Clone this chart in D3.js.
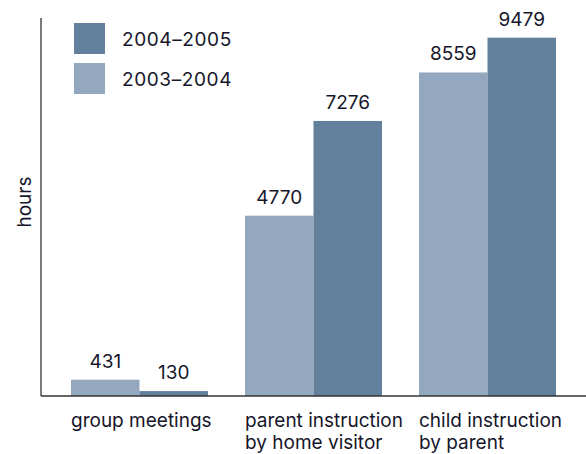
<!DOCTYPE html>
<html>
<head>
<meta charset="utf-8">
<script src="https://cdn.jsdelivr.net/npm/d3@7"></script>
<style>
  body { margin: 0; background: #fff; }
  text { font-family: Inter, "Liberation Sans", Arial, sans-serif; fill: #16162a; }
</style>
</head>
<body>
<svg id="chart" width="586" height="454"></svg>
<script>
// categories (each label can span two lines)
var categories = ["group meetings", "parent instruction|by home visitor", "child instruction|by parent"];
var seriesNames = ["2003–2004", "2004–2005"];
var values2003 = [431, 4770, 8559];
var values2004 = [130, 7276, 9479];
var legendOrder = ["2004–2005", "2003–2004"];

var colors = { "2003–2004": "#93a8be", "2004–2005": "#62809c" };

var svg = d3.select("#chart");
var margin = { left: 41, top: 18, bottom: 396 };
var fontSize = 19;

var rows = categories.map(function (c, i) {
    return { cat: c, vals: [
        { key: "2003–2004", value: values2003[i] },
        { key: "2004–2005", value: values2004[i] }
    ] };
});

var y = d3.scaleLinear().domain([0, 10000]).range([margin.bottom, margin.top]);
var x = d3.scaleBand().domain(categories).range([71, 556]).paddingInner(0.2126).paddingOuter(0);
var xs = d3.scaleBand().domain(seriesNames).range([0, x.bandwidth()]).padding(0);

// bars
var groups = svg.selectAll("g.grp").data(rows).enter().append("g")
    .attr("class", "grp")
    .attr("transform", function (d) { return "translate(" + x(d.cat) + ",0)"; });

groups.selectAll("rect").data(function (d) { return d.vals; }).enter().append("rect")
    .attr("x", function (d) { return xs(d.key); })
    .attr("y", function (d) { return y(d.value); })
    .attr("width", xs.bandwidth())
    .attr("height", function (d) { return y(0) - y(d.value); })
    .attr("fill", function (d) { return colors[d.key]; });

groups.selectAll("text.val").data(function (d) { return d.vals; }).enter().append("text")
    .attr("class", "val")
    .attr("x", function (d) { return xs(d.key) + xs.bandwidth() / 2; })
    .attr("y", function (d) { return y(d.value) - 12; })
    .attr("text-anchor", "middle")
    .attr("font-size", fontSize)
    .text(function (d) { return d.value; });

// axes lines
svg.append("line")
    .attr("x1", margin.left).attr("x2", margin.left)
    .attr("y1", margin.top).attr("y2", margin.bottom)
    .attr("stroke", "#333").attr("stroke-width", 1.3);
svg.append("line")
    .attr("x1", margin.left).attr("x2", 586)
    .attr("y1", margin.bottom).attr("y2", margin.bottom)
    .attr("stroke", "#333").attr("stroke-width", 1.3);

// category labels
var catLabels = svg.selectAll("text.cat").data(categories).enter().append("text")
    .attr("class", "cat")
    .attr("font-size", fontSize)
    .attr("x", function (d) { return x(d); })
    .attr("y", 427);
catLabels.selectAll("tspan").data(function (d) { return d.split("|"); }).enter().append("tspan")
    .attr("x", function () { return x(d3.select(this.parentNode).datum()); })
    .attr("dy", function (d, i) { return i ? 22 : 0; })
    .text(function (d) { return d; });

// y axis title
svg.append("text")
    .attr("transform", "translate(31,202) rotate(-90)")
    .attr("text-anchor", "middle")
    .attr("font-size", fontSize)
    .text("hours");

// legend
var legend = svg.selectAll("g.leg").data(legendOrder).enter().append("g")
    .attr("class", "leg")
    .attr("transform", function (d, i) { return "translate(74," + (23 + i * 40) + ")"; });
legend.append("rect").attr("width", 31).attr("height", 31)
    .attr("fill", function (d) { return colors[d]; });
legend.append("text")
    .attr("x", 48).attr("y", 22.5)
    .attr("font-size", fontSize)
    .attr("letter-spacing", 0.6)
    .text(function (d) { return d; });
</script>
</body>
</html>
